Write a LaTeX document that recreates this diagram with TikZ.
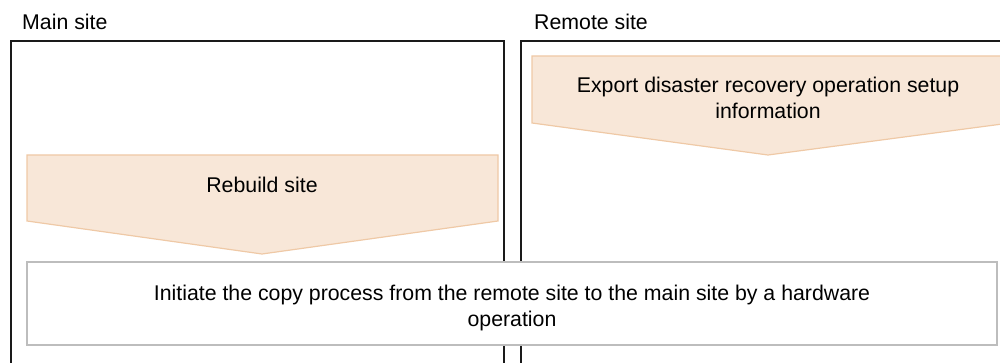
\documentclass[tikz,border=0pt]{standalone}
\usepackage{fontspec}
\setmainfont{Liberation Sans}
\definecolor{pfill}{HTML}{F8E7D8}
\definecolor{pdraw}{HTML}{EFC9A6}
\definecolor{gbox}{HTML}{BDBDBD}
\definecolor{sline}{HTML}{1A1A1A}
\begin{document}
\begin{tikzpicture}[x=1pt,y=-1pt,
  sitebox/.style={draw=sline,line width=1.5pt},
  penta/.style={fill=pfill,draw=pdraw,line width=1.2pt,line join=miter},
  lbl/.style={font=\fontsize{21.3}{25.5}\selectfont,inner sep=0pt,align=center},
  copybox/.style={fill=white,draw=gbox,line width=1.3pt}]
\useasboundingbox (0,0) rectangle (1000,363);
% site frames
\draw[sitebox] (11,370) -- (11,41) -- (504,41) -- (504,370);
\draw[sitebox] (521,370) -- (521,41) -- (1010,41);
\node[lbl,anchor=base west] (mainlbl) at (22,30) {Main site};
\node[lbl,anchor=base west] (remlbl) at (534,30) {Remote site};
% pentagons
\draw[penta] (27,155) -- (498,155) -- (498,221) -- (262,254) -- (27,221) -- cycle;
\node[lbl] (rebuild) at (262,185) {Rebuild site};
\draw[penta] (532,56) -- (1010,56) -- (1010,123) -- (768,155) -- (532,123) -- cycle;
\node[lbl] (export) at (768,98) {Export disaster recovery operation setup\\information};
% copy box
\draw[copybox] (27,262) rectangle (997,345);
\node[lbl] (copy) at (512,308) {Initiate the copy process from the remote site to the main site by a hardware\\operation};
\end{tikzpicture}
\end{document}
